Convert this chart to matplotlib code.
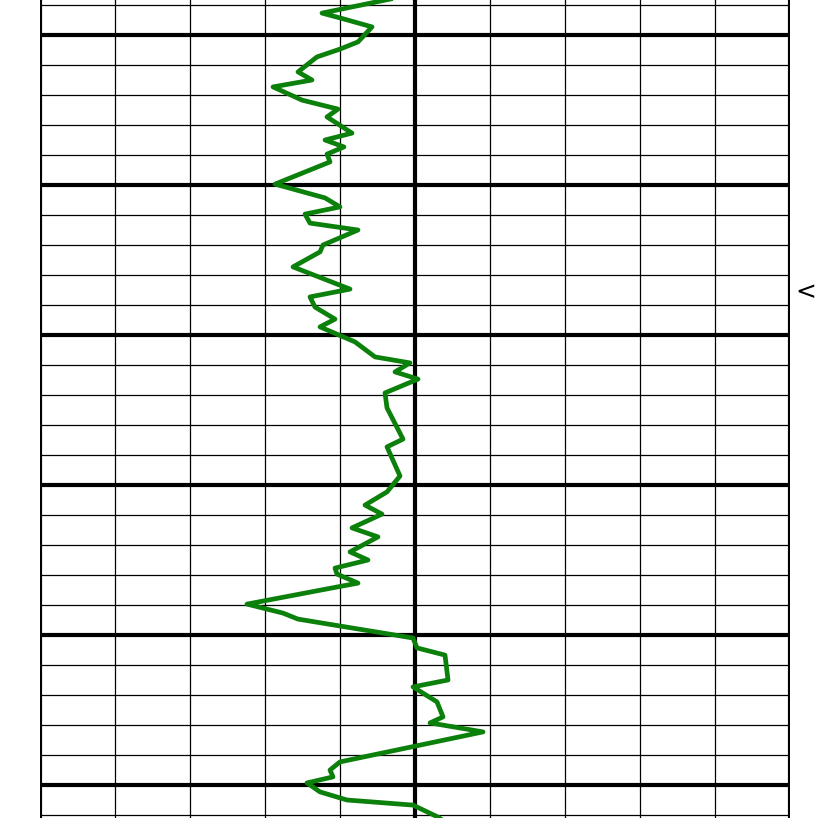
import matplotlib
matplotlib.use("Agg")
import matplotlib.pyplot as plt
import numpy as np

# log curve: value (0-150 scale) vs depth
depth = [987.0, 992.7, 994.3, 997.3, 1002.3, 1004.7, 1007.3, 1012.3, 1015.0, 1017.3,
         1021.7, 1024.7, 1027.3, 1032.7, 1035.0, 1037.3, 1039.7, 1042.3, 1049.7, 1054.3,
         1057.3, 1059.7, 1062.7, 1065.0, 1070.0, 1072.3, 1077.3, 1084.7, 1087.3, 1090.7,
         1094.7, 1097.3, 1102.3, 1107.3, 1109.3, 1112.3, 1114.7, 1119.3, 1124.3, 1134.7,
         1137.3, 1147.0, 1152.3, 1156.7, 1159.7, 1164.3, 1167.3, 1172.3, 1175.0, 1177.7,
         1179.7, 1182.7, 1184.0, 1189.7, 1192.7, 1194.7, 1201.0, 1204.3, 1206.7, 1215.0,
         1217.3, 1222.3, 1227.3, 1229.3, 1232.3, 1242.3, 1245.0, 1247.3, 1249.3, 1252.3,
         1255.0, 1256.7, 1260.7, 1262.3]
value = [73.0, 56.4, 60.0, 66.4, 63.6, 60.0, 55.4, 51.6, 54.4, 46.6,
         52.4, 59.6, 57.4, 62.4, 57.0, 60.8, 57.4, 58.0, 47.0, 57.0,
         60.0, 53.0, 54.0, 63.6, 56.6, 56.0, 50.6, 62.0, 54.0, 55.0,
         59.0, 56.0, 63.0, 67.0, 74.0, 71.0, 75.6, 69.0, 69.4, 72.6,
         69.4, 72.0, 69.4, 65.0, 68.4, 62.4, 67.6, 62.0, 65.6, 59.0,
         59.4, 63.6, 59.4, 41.4, 48.6, 51.6, 74.6, 75.4, 81.0, 81.6,
         74.6, 79.4, 80.6, 78.0, 88.6, 60.0, 58.0, 58.6, 53.4, 56.0,
         61.4, 74.6, 79.6, 81.0]

x_min, x_max = 0, 150
x_step = 15
depth_top, depth_bottom = 988.33, 1261.0

fig = plt.figure(figsize=(8.16, 8.18), dpi=100)
ax = fig.add_axes([40 / 816, 0, 750 / 816, 1])

# grid: thin every 10 depth units, thick every 50
for d in np.arange(990, 1270, 10):
    lw = 3.0 if d % 50 == 0 else 0.9
    ax.axhline(d, color="black", lw=lw, zorder=1)
for x in np.arange(x_min, x_max + 1, x_step):
    lw = 3.0 if x % 75 == 0 else 0.9
    ax.axvline(x, color="black", lw=lw, zorder=1)

ax.plot(value, depth, color="#0b800b", lw=3.4, zorder=3, solid_joinstyle="round")

ax.set_xlim(x_min, x_max)
ax.set_ylim(depth_bottom, depth_top)
for s in ax.spines.values():
    s.set_visible(False)
ax.set_xticks([])
ax.set_yticks([])

fig.text(806 / 816, 1 - 292 / 818, "<", ha="center", va="center", fontsize=18)

fig.savefig("out.png", dpi=100)
